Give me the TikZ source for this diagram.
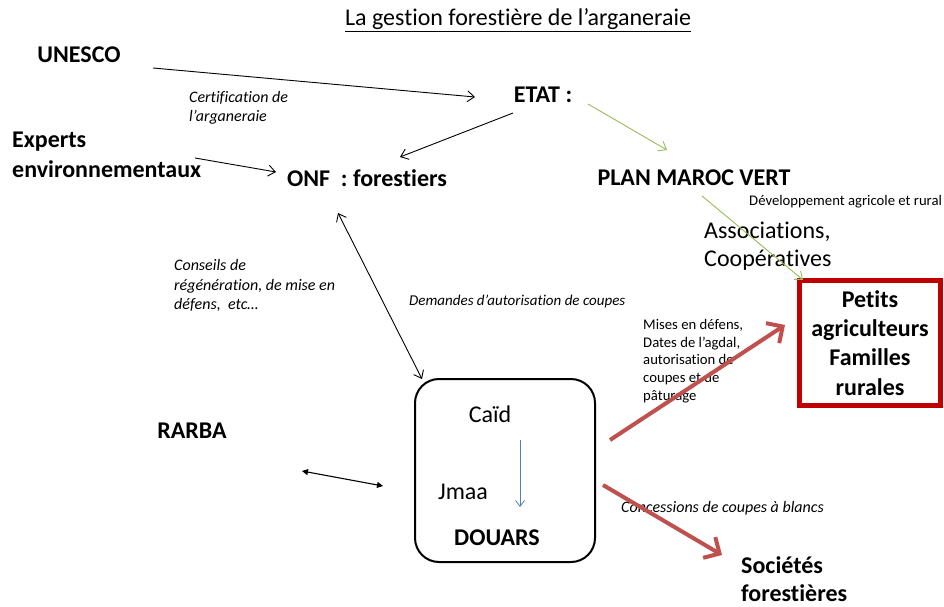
\documentclass[tikz,border=0pt]{standalone}
\usepackage{fontspec}
\setmainfont{Carlito}[Ligatures={NoCommon}]
\usetikzlibrary{arrows.meta}
\definecolor{redarr}{HTML}{C0504D}
\definecolor{redbox}{HTML}{C00000}
\definecolor{greenarr}{HTML}{9BBB59}
\definecolor{bluearr}{HTML}{4F81BD}
\tikzset{
  lbl/.style={inner sep=0pt, font=\fontsize{24}{29}\selectfont\bfseries, align=left},
  ital/.style={inner sep=0pt, anchor=west, font=\fontsize{16}{19.5}\selectfont\itshape, align=left},
  small/.style={inner sep=0pt, anchor=west, font=\fontsize{14.7}{17.8}\selectfont, align=left},
  thin/.style={line width=0.9pt, -{Straight Barb[length=7pt,width=11pt]}},
  thinboth/.style={line width=0.9pt, {Straight Barb[length=7pt,width=11pt]}-{Straight Barb[length=7pt,width=11pt]}},
  triboth/.style={line width=1.1pt, {Triangle[length=6pt,width=6pt]}-{Triangle[length=6pt,width=6pt]}},
  greenline/.style={line width=0.9pt, greenarr, -{Straight Barb[length=7pt,width=11pt]}},
  redline/.style={line width=4pt, redarr, -{Straight Barb[length=12pt,width=24pt]}},
}
\begin{document}
\begin{tikzpicture}[x=1pt,y=-1pt]
\useasboundingbox (0,0) rectangle (944,607);
% title
\node[inner sep=0pt, font=\fontsize{24}{28}\selectfont] (title) at (518,20) {\underline{La gestion forestière de l’arganeraie}};
% main labels
\node[lbl] (unesco) at (79,55) {UNESCO};
\node[lbl] (etat) at (543,95) {ETAT :};
\node[lbl, anchor=west, font=\fontsize{24}{30}\selectfont\bfseries] (experts) at (12,155) {Experts\\environnementaux};
\node[lbl] (onf) at (367,178) {ONF~~: forestiers};
\node[lbl] (pmv) at (694,178) {PLAN MAROC VERT};
\node[lbl] (rarba) at (192,431) {RARBA};
\node[lbl, anchor=west, font=\fontsize{24}{28}\selectfont\bfseries] (soc) at (741,579) {Sociétés\\forestières};
% red box
\node[draw=redbox, line width=5pt, minimum width=141pt, minimum height=125pt, inner sep=0pt,
      font=\fontsize{24}{29.3}\selectfont\bfseries, align=center] (petits) at (870,343)
      {Petits\\agriculteurs\\Familles\\rurales};
% douars box
\node[draw, line width=2pt, rounded corners=24pt, minimum width=180pt, minimum height=183pt] (douars) at (505,470.5) {};
\node[inner sep=0pt, font=\fontsize{24}{28}\selectfont] (caid) at (490,414) {Caïd};
\node[inner sep=0pt, font=\fontsize{24}{28}\selectfont] (jmaa) at (463,492) {Jmaa};
\node[inner sep=0pt, font=\fontsize{24}{28}\selectfont\bfseries] (douarst) at (497,538) {DOUARS};
% other text
\node[ital] (cert) at (189,108) {Certification de\\l’arganeraie};
\node[ital] (conseils) at (174,285.5) {Conseils de\\régénération, de mise en\\défens,~ etc…};
\node[ital, font=\fontsize{15}{19}\selectfont\itshape] (demandes) at (409,301) {Demandes d’autorisation de coupes};
\node[ital] (concess) at (621,508) {Concessions de coupes à blancs};
\node[small] (dev) at (749,202) {Développement agricole et rural};
\node[inner sep=0pt, anchor=west, font=\fontsize{24}{28.5}\selectfont, align=left] (assoc) at (704,246) {Associations,\\Coopératives};
\node[small] (mises) at (643,361) {Mises en défens,\\Dates de l’agdal,\\autorisation de\\coupes et de\\pâturage};
% arrow end points
\coordinate (u1) at (153,68); \coordinate (e1) at (475,97);
\coordinate (e2) at (513,113); \coordinate (o1) at (400,157);
\coordinate (x1) at (195,158); \coordinate (o2) at (276,172);
\coordinate (o3) at (338,213); \coordinate (d1) at (422,379);
\coordinate (e3) at (588,104); \coordinate (p1) at (667,150);
\coordinate (p2) at (702,196); \coordinate (b1) at (803,280);
\coordinate (r1) at (302,471); \coordinate (d2) at (383,486);
\coordinate (c1) at (520,440); \coordinate (j1) at (520,507);
\coordinate (d3) at (610,440); \coordinate (b2) at (785,325);
\coordinate (d4) at (603,485); \coordinate (s1) at (722,555);
% connectors
\draw[thin] (u1) -- (e1);
\draw[thin] (e2) -- (o1);
\draw[thin] (x1) -- (o2);
\draw[thinboth] (o3) -- (d1);
\draw[triboth] (r1) -- (d2);
\draw[greenline] (e3) -- (p1);
\draw[greenline] (p2) -- (b1);
\draw[line width=0.8pt, bluearr, -{Straight Barb[length=6pt,width=9pt]}] (c1) -- (j1);
\draw[redline] (d3) -- (b2);
\draw[redline] (d4) -- (s1);
\end{tikzpicture}
\end{document}
